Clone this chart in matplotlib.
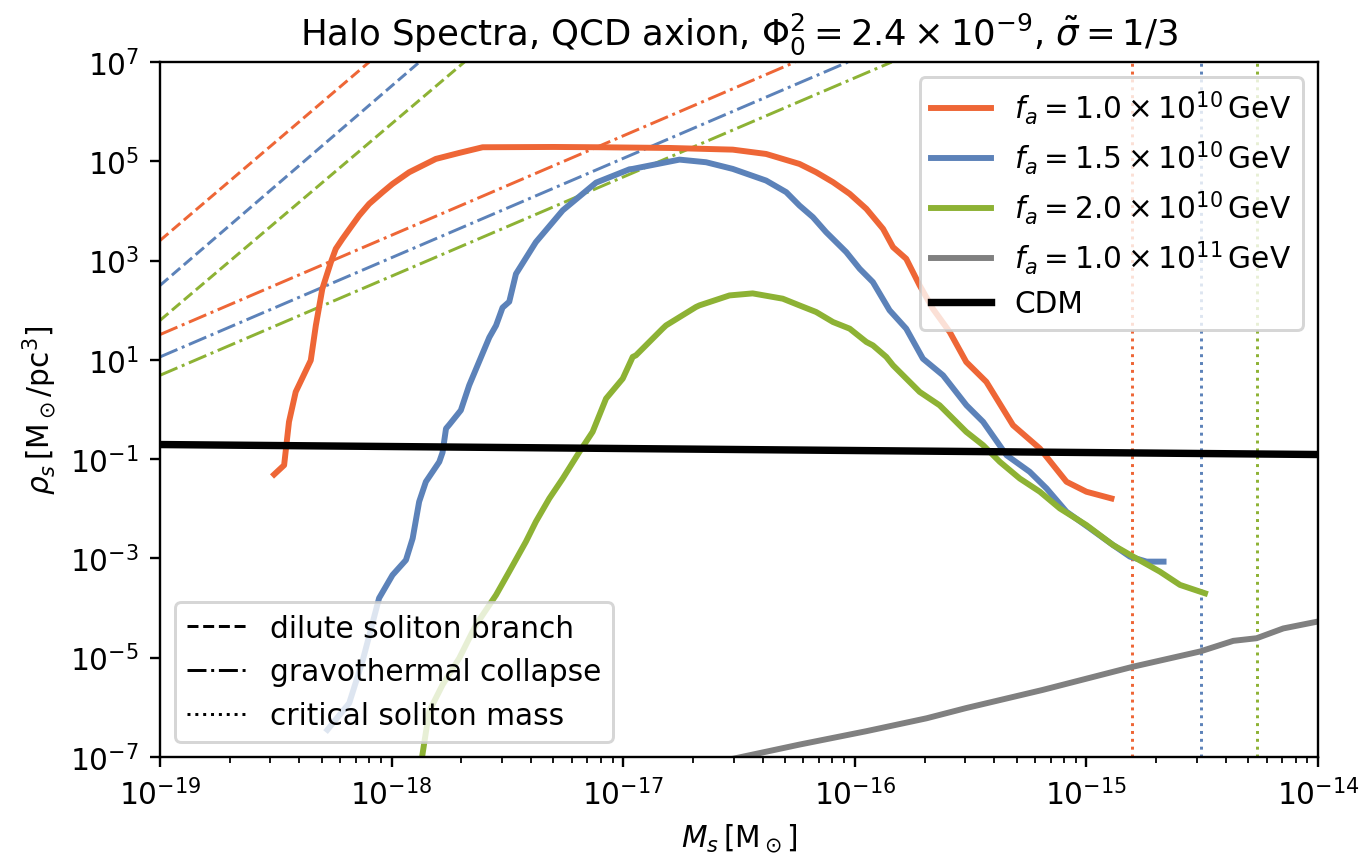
import numpy as np
import matplotlib
matplotlib.use("Agg")
import matplotlib.pyplot as plt
from matplotlib.ticker import NullLocator, LogLocator
from matplotlib.lines import Line2D

# Colours for the three fuzzy-dark-matter-like spectra + heavy axion
C_ORANGE = "#ee6636"
C_BLUE = "#5c82b9"
C_GREEN = "#8db234"
C_GRAY = "#808080"

# Halo spectra, values as log10(M_s), log10(rho_s)
orange_logM = [-18.507, -18.464, -18.443, -18.414, -18.349, -18.327, -18.299, -18.262, -18.241,
               -18.212, -18.176, -18.14, -18.097, -18.039, -17.996, -17.924, -17.809, -17.708,
               -17.607, -17.3, -17.103, -16.8, -16.527, -16.383, -16.239, -16.167, -16.094,
               -16.022, -15.95, -15.878, -15.835, -15.778, -15.72, -15.663, -15.59, -15.519,
               -15.432, -15.317, -15.201, -15.086, -15.0, -14.892]
orange_logrho = [-1.308, -1.121, -0.248, 0.355, 0.991, 1.695, 2.433, 2.97, 3.238,
                 3.44, 3.675, 3.908, 4.143, 4.379, 4.546, 4.781, 5.049, 5.17,
                 5.284, 5.29, 5.284, 5.27, 5.236, 5.149, 4.948, 4.781, 4.58,
                 4.345, 4.043, 3.64, 3.272, 3.037, 2.5, 2.031, 1.56, 0.959,
                 0.557, -0.316, -0.785, -1.455, -1.656, -1.791]

blue_logM = [-18.277, -18.183, -18.126, -18.054, -17.996, -17.938, -17.909, -17.881, -17.852,
             -17.794, -17.78, -17.765, -17.751, -17.701, -17.665, -17.578, -17.549, -17.521,
             -17.492, -17.463, -17.377, -17.261, -17.117, -16.973, -16.959, -16.757, -16.642,
             -16.527, -16.383, -16.296, -16.239, -16.181, -16.124, -16.037, -15.979, -15.922,
             -15.85, -15.778, -15.706, -15.619, -15.518, -15.446, -15.345, -15.245, -15.172,
             -15.086, -14.985, -14.885, -14.812, -14.74, -14.667]
blue_logrho = [-6.452, -5.915, -5.076, -3.80, -3.334, -3.032, -2.596, -1.857, -1.455,
               -1.053, -0.866, -0.383, -0.306, -0.015, 0.488, 1.454, 1.693, 2.053,
               2.172, 2.733, 3.373, 4.013, 4.572, 4.84, 4.848, 5.035, 4.982,
               4.848, 4.613, 4.379, 4.11, 3.876, 3.574, 3.172, 2.836, 2.568,
               2.0, 1.629, 1.025, 0.689, 0.086, -0.248, -0.92, -1.254, -1.59,
               -2.059, -2.394, -2.73, -2.964, -3.064, -3.064]

green_logM = [-17.87, -17.838, -17.78, -17.708, -17.636, -17.549, -17.492, -17.42, -17.377,
              -17.319, -17.261, -17.189, -17.132, -17.074, -17.002, -16.959, -16.945, -16.83,
              -16.815, -16.686, -16.671, -16.541, -16.441, -16.311, -16.239, -16.167, -16.094,
              -16.022, -15.95, -15.922, -15.864, -15.835, -15.72, -15.634, -15.519, -15.446,
              -15.374, -15.288, -15.201, -15.115, -15.0, -14.885, -14.785, -14.683, -14.596,
              -14.488]
green_logrho = [-7.05, -6.082, -5.546, -5.01, -4.34, -3.736, -3.265, -2.662, -2.259,
                -1.791, -1.389, -0.852, -0.449, 0.221, 0.623, 1.06, 1.092, 1.629,
                1.695, 2.065, 2.098, 2.299, 2.34, 2.233, 2.098, 1.965, 1.763,
                1.629, 1.361, 1.293, 1.06, 0.891, 0.355, 0.086, -0.449, -0.718,
                -1.053, -1.389, -1.656, -1.992, -2.328, -2.73, -2.998, -3.265, -3.533,
                -3.702]

gray_logM = [-16.52, -16.239, -15.95, -15.69, -15.52, -15.19, -14.798, -14.51, -14.366,
             -14.265, -14.15, -14.0]
gray_logrho = [-7.03, -6.75, -6.48, -6.22, -6.015, -5.65, -5.18, -4.875, -4.66,
               -4.607, -4.41, -4.27]

# CDM reference (two end points at the plot edges)
cdm_logM = [-19.0, -14.0]
cdm_logrho = [-0.705, -0.906]

# Dilute soliton branch (dashed) and gravothermal collapse (dash-dot): end points
dilute_logM = {"o": [-19.0, -18.097], "b": [-19.0, -17.88], "g": [-19.0, -17.686]}
dilute_logrho = {"o": [3.405, 7.0], "b": [2.5, 7.0], "g": [1.796, 7.0]}
gravo_logM = {"o": [-19.0, -16.258], "b": [-19.0, -16.03], "g": [-19.0, -15.841]}
gravo_logrho = {"o": [1.51, 7.0], "b": [1.06, 7.0], "g": [0.69, 7.0]}

# Critical soliton mass (dotted verticals)
crit_logM = {"o": -14.805, "b": -14.506, "g": -14.262}

labels = [r"$f_a = 1.0\times10^{10}\,\mathrm{GeV}$",
          r"$f_a = 1.5\times10^{10}\,\mathrm{GeV}$",
          r"$f_a = 2.0\times10^{10}\,\mathrm{GeV}$",
          r"$f_a = 1.0\times10^{11}\,\mathrm{GeV}$"]

colors = {"o": C_ORANGE, "b": C_BLUE, "g": C_GREEN}

fig = plt.figure(figsize=(6.4, 4.0131), dpi=213.28)
ax = fig.add_axes([0.1172, 0.1145, 0.9656 - 0.1172, 0.9264 - 0.1145])

def p(v):
    return 10.0 ** np.asarray(v)

# thin guide lines first
for k in ("o", "b", "g"):
    ax.plot(p(dilute_logM[k]), p(dilute_logrho[k]), ls="--", lw=1, color=colors[k])
    ax.plot(p(gravo_logM[k]), p(gravo_logrho[k]), ls="-.", lw=1, color=colors[k])
    ax.axvline(p(crit_logM[k]), ls=":", lw=1, color=colors[k])

h1, = ax.plot(p(orange_logM), p(orange_logrho), color=C_ORANGE, lw=2, label=labels[0])
h2, = ax.plot(p(blue_logM), p(blue_logrho), color=C_BLUE, lw=2, label=labels[1])
h3, = ax.plot(p(green_logM), p(green_logrho), color=C_GREEN, lw=2, label=labels[2])
h4, = ax.plot(p(gray_logM), p(gray_logrho), color=C_GRAY, lw=2, label=labels[3])
h5, = ax.plot(p(cdm_logM), p(cdm_logrho), color="black", lw=2.5, label="CDM")

ax.set_xscale("log")
ax.set_yscale("log")
ax.set_xlim(1e-19, 1e-14)
ax.set_ylim(1e-7, 1e7)
ax.set_xticks([10.0 ** e for e in range(-19, -13)])
ax.xaxis.set_minor_locator(LogLocator(base=10, subs=np.arange(2, 10)))
ax.set_yticks([10.0 ** e for e in range(-7, 8, 2)])
ax.yaxis.set_minor_locator(NullLocator())

ax.set_xlabel(r"$M_s\,[\mathrm{M}_\odot]$")
ax.set_ylabel(r"$\rho_s\,[\mathrm{M}_\odot/\mathrm{pc}^3]$")
ax.set_title(r"Halo Spectra, QCD axion, $\Phi_0^2 = 2.4\times10^{-9}$, $\tilde{\sigma} = 1/3$")

leg1 = ax.legend(handles=[h1, h2, h3, h4, h5], loc="upper right", labelspacing=0.42)
ax.add_artist(leg1)

style_handles = [Line2D([], [], color="black", ls="--", lw=1),
                 Line2D([], [], color="black", ls="-.", lw=1),
                 Line2D([], [], color="black", ls=":", lw=1)]
ax.legend(style_handles, ["dilute soliton branch", "gravothermal collapse", "critical soliton mass"],
          loc="lower left")

fig.savefig("out.png", dpi=213.28)
